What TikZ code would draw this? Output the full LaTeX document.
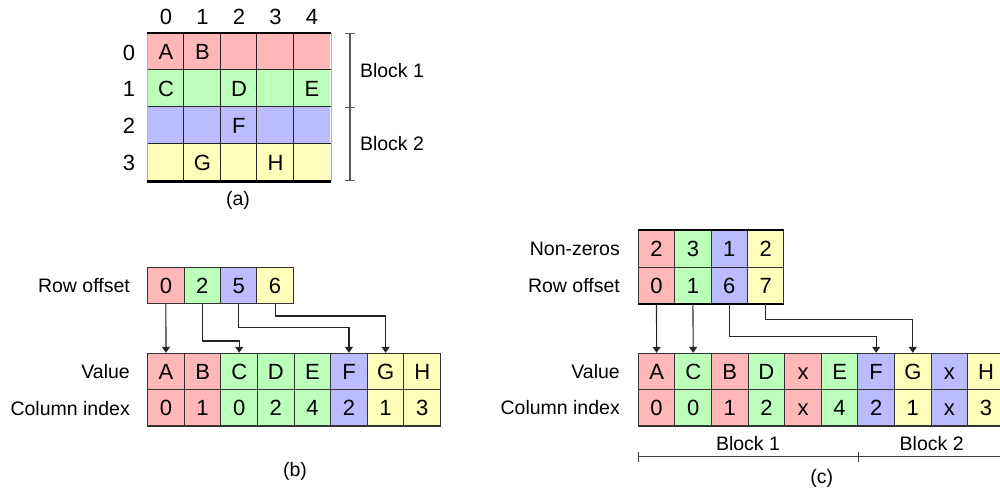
\documentclass[tikz,border=0pt]{standalone}
\usepackage{fontspec}
\setmainfont{Liberation Sans}
\usetikzlibrary{arrows.meta}
\definecolor{cr}{RGB}{255,183,183}
\definecolor{cg}{RGB}{187,255,187}
\definecolor{cb}{RGB}{187,187,255}
\definecolor{cy}{RGB}{255,255,187}
\tikzset{
 cell/.style={minimum width=36.6pt, minimum height=36.3pt, inner sep=0pt, draw=black!80, line width=1.1pt,
   font=\fontsize{22}{26}\selectfont, text height=15.8pt, text depth=0pt},
 hdr/.style={inner sep=0pt, font=\fontsize{22}{26}\selectfont, text height=15.8pt, text depth=0pt},
 lbl/.style={anchor=east, inner sep=0pt, font=\fontsize{19.5}{23}\selectfont, text height=14pt, text depth=0pt},
 captxt/.style={inner sep=0pt, font=\fontsize{19.5}{23}\selectfont},
 ptr/.style={draw=black!85, line width=1.1pt, -{Triangle[length=6pt,width=8pt]}},
 brk/.style={draw=black!65, line width=1.3pt},
 gridline/.style={draw=black!85, line width=1.1pt},
 thk/.style={draw=black, line width=2.6pt},
}
\begin{document}
\begin{tikzpicture}[x=1pt,y=-1pt]
\useasboundingbox (0,0) rectangle (1000,493);
\clip (0,0) rectangle (1000,493);

% ---------- (a) ----------
\foreach \c in {0,...,4} {
  \node[hdr] (a-h-\c) at ({166+\c*36.5},17) {\c};
}
\foreach \r/\col in {0/cr,1/cg,2/cb,3/cy} {
  \node[hdr] (a-rl-\r) at (129,{52.1+\r*36.75}) {\r};
  \foreach \c in {0,...,4} {
    \node[cell, draw=none, fill=\col, minimum width=36.6pt, minimum height=36.85pt]
      (a-\r-\c) at ({147.7+18.25+\c*36.5},{33.7+18.375+\r*36.75}) {};
  }
}
\node[hdr] at (a-0-0) {A};
\node[hdr] at (a-0-1) {B};
\node[hdr] at (a-1-0) {C};
\node[hdr] at (a-1-2) {D};
\node[hdr] at (a-1-4) {E};
\node[hdr] at (a-2-2) {F};
\node[hdr] at (a-3-1) {G};
\node[hdr] at (a-3-3) {H};
\foreach \c in {1,...,4} {
  \draw[gridline] (a-0-\c.north west) -- (a-3-\c.south west);
}
\foreach \r in {1,2,3} {
  \draw[gridline] (a-\r-0.north west) -- (a-\r-4.north east);
}
\draw[draw=black!30, line width=0.6pt] (a-0-0.north west) -- (a-3-0.south west);
\draw[draw=black!30, line width=0.6pt] (a-0-4.north east) -- (a-3-4.south east);
\draw[thk] (a-0-0.north west) -- (a-0-4.north east);
\draw[thk] (a-3-0.south west) -- (a-3-4.south east);
% bracket
\coordinate (abt) at (350,33.7);
\coordinate (abm) at (350,107.2);
\coordinate (abb) at (350,180.7);
\draw[brk] (abt) -- (abb);
\foreach \p in {abt,abm,abb} { \draw[brk] ([xshift=-4.7pt]\p) -- ([xshift=4.7pt]\p); }
\node[captxt] (a-b1) at (392,71) {Block 1};
\node[captxt] (a-b2) at (392,144) {Block 2};
\node[captxt] (a-cap) at (238,200) {(a)};

% ---------- (b) ----------
\node[lbl] (b-l-ro) at (130,285.5) {Row offset};
\node[lbl] (b-l-v) at (130,371.5) {Value};
\node[lbl] (b-l-ci) at (130,408) {Column index};
\foreach \i/\t/\col in {0/0/cr,1/2/cg,2/5/cb,3/6/cy} {
  \node[cell, fill=\col, minimum width=36.4pt, minimum height=35.7pt] (b-ro-\i) at ({147.7+18.2+\i*36.4},285.5) {\t};
}
\foreach \i/\v/\n/\col in {0/A/0/cr,1/B/1/cr,2/C/0/cg,3/D/2/cg,4/E/4/cg,5/F/2/cb,6/G/1/cy,7/H/3/cy} {
  \node[cell, fill=\col] (b-v-\i) at ({147.7+18.3+\i*36.6},371.5) {\v};
  \node[cell, fill=\col] (b-ci-\i) at ({147.7+18.3+\i*36.6},407.8) {\n};
}
\draw[ptr] (b-ro-0.south) -- (b-v-0.north);
\draw[ptr] (b-ro-1.south) -- (b-ro-1.south |- 0,341) -| (b-v-2.north);
\draw[ptr] (b-ro-2.south) -- (b-ro-2.south |- 0,327.7) -| (b-v-5.north);
\draw[ptr] (b-ro-3.south) -- (b-ro-3.south |- 0,316) -| (b-v-6.north);
\node[captxt] (b-cap) at (295,471) {(b)};

% ---------- (c) ----------
\node[lbl] (c-l-nz) at (620,248.9) {Non-zeros};
\node[lbl] (c-l-ro) at (620,285.3) {Row offset};
\node[lbl] (c-l-v) at (620,371.5) {Value};
\node[lbl] (c-l-ci) at (620,407.8) {Column index};
\foreach \i/\a/\b/\col in {0/2/0/cr,1/3/1/cg,2/1/6/cb,3/2/7/cy} {
  \node[cell, fill=\col, minimum width=36.4pt] (c-nz-\i) at ({638.3+18.2+\i*36.4},248.9) {\a};
  \node[cell, fill=\col, minimum width=36.4pt, minimum height=36pt] (c-ro-\i) at ({638.3+18.2+\i*36.4},285.3) {\b};
}
\draw[draw=black, line width=2.2pt] (c-nz-0.north west) -- (c-nz-3.north east);
\draw[draw=black, line width=2.2pt] (c-ro-0.south west) -- (c-ro-3.south east);
\foreach \i/\v/\n/\col in {0/A/0/cr,1/C/0/cg,2/B/1/cr,3/D/2/cg,4/x/x/cr,5/E/4/cg,6/F/2/cb,7/G/1/cy,8/x/x/cb,9/H/3/cy} {
  \node[cell, fill=\col] (c-v-\i) at ({638.3+18.3+\i*36.6},371.5) {\v};
  \node[cell, fill=\col] (c-ci-\i) at ({638.3+18.3+\i*36.6},407.8) {\n};
}
\draw[ptr] (c-ro-0.south) -- (c-v-0.north);
\draw[ptr] (c-ro-1.south) -- (c-v-1.north);
\draw[ptr] (c-ro-2.south) -- (c-ro-2.south |- 0,336.7) -| (c-v-6.north);
\draw[ptr] (c-ro-3.south) -- (c-ro-3.south |- 0,319.3) -| (c-v-7.north);
% block bracket
\coordinate (cb0) at (638.3,456.7);
\coordinate (cb1) at (858.7,456.7);
\coordinate (cb2) at (1010,456.7);
\draw[brk, draw=black!75] (cb0) -- (cb2);
\foreach \p in {cb0,cb1} { \draw[brk, draw=black!75] ([yshift=-5pt]\p) -- ([yshift=5pt]\p); }
\node[captxt] (c-b1) at (748,444) {Block 1};
\node[captxt] (c-b2) at (931.7,444) {Block 2};
\node[captxt] (c-cap) at (821.7,478) {(c)};
\end{tikzpicture}
\end{document}
